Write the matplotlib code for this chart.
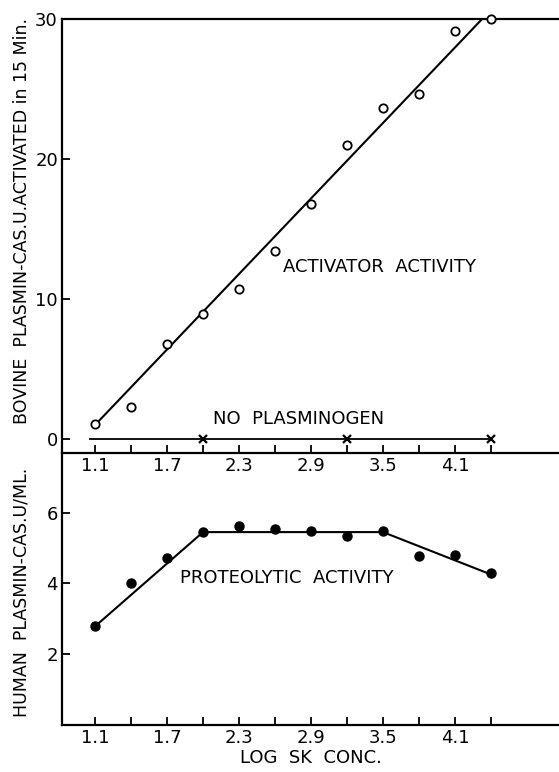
import numpy as np
import matplotlib
matplotlib.use("Agg")
import matplotlib.pyplot as plt

# log SK concentration
log_sk = [1.1, 1.4, 1.7, 2.0, 2.3, 2.6, 2.9, 3.2, 3.5, 3.8, 4.1, 4.4]

# activator activity (bovine plasmin, open circles)
activator = [1.1, 2.3, 6.8, 8.9, 10.7, 13.4, 16.8, 21.0, 23.6, 24.6, 29.1, 30.0]
activator_fit_x = [1.1, 4.33]
activator_fit_y = [1.0, 30.0]

# no plasminogen control
no_plg_x = [2.0, 3.2, 4.4]
no_plg_y = [0, 0, 0]
no_plg_line_x = [1.06, 4.4]

# proteolytic activity (human plasmin, filled circles)
proteolytic = [2.78, 4.0, 4.72, 5.45, 5.62, 5.53, 5.48, 5.33, 5.48, 4.77, 4.8, 4.28]
proteo_fit_x = [1.1, 2.0, 3.5, 4.4]
proteo_fit_y = [2.78, 5.45, 5.45, 4.25]

major_ticks = [1.1, 1.7, 2.3, 2.9, 3.5, 4.1]
minor_ticks = [1.4, 2.0, 2.6, 3.2, 3.8, 4.4]

fs = 13
plt.rcParams["font.family"] = "DejaVu Sans"

fig = plt.figure(figsize=(5.59, 7.72), dpi=100)
ax2 = fig.add_axes([0.111, 0.0615, 0.889, 0.3517])
ax1 = fig.add_axes([0.111, 0.4132, 0.889, 0.5628])
ax1.patch.set_visible(False)
ax2.patch.set_visible(False)

lw = 1.6

for ax in (ax1, ax2):
    ax.set_xlim(0.825, 4.967)
    ax.set_xticks(major_ticks)
    ax.set_xticks(minor_ticks, minor=True)
    ax.set_xticklabels([str(t) for t in major_ticks])
    ax.tick_params(which="both", direction="in", length=6, width=1.3,
                   labelsize=fs, pad=3, colors="black")
    ax.spines["right"].set_visible(False)
    for s in ax.spines.values():
        s.set_linewidth(lw)

# upper panel
ax1.set_ylim(-1.0, 30)
ax1.set_yticks([0, 10, 20, 30])
ax1.plot(activator_fit_x, activator_fit_y, color="black", lw=1.5)
ax1.plot(log_sk, activator, "o", mfc="white", mec="black", ms=6, mew=1.3,
         clip_on=False, zorder=3)
ax1.plot(no_plg_line_x, [0, 0], color="black", lw=1.3)
ax1.plot(no_plg_x, no_plg_y, "x", color="black", ms=6, mew=1.6)
ax1.text(2.08, 1.4, "NO  PLASMINOGEN", fontsize=fs, va="center", ha="left")
ax1.text(2.67, 12.3, "ACTIVATOR  ACTIVITY", fontsize=fs, va="center", ha="left")

# lower panel
ax2.set_ylim(0, 7.69)
ax2.set_yticks([2, 4, 6])
ax2.spines["top"].set_visible(False)
ax2.plot(proteo_fit_x, proteo_fit_y, color="black", lw=1.5)
ax2.plot(log_sk, proteolytic, "o", color="black", ms=6.5, zorder=3)
ax2.text(1.81, 4.14, "PROTEOLYTIC  ACTIVITY", fontsize=fs, va="center", ha="left")
ax2.set_xlabel("LOG  SK  CONC.", fontsize=fs, labelpad=2)

fig.text(0.039, 0.714, "BOVINE  PLASMIN-CAS.U.ACTIVATED in 15 Min.",
         rotation=90, fontsize=12.5, va="center", ha="center")
fig.text(0.039, 0.233, "HUMAN  PLASMIN-CAS.U/ML.",
         rotation=90, fontsize=12.5, va="center", ha="center")

fig.savefig("out.png", dpi=100, facecolor="white")
